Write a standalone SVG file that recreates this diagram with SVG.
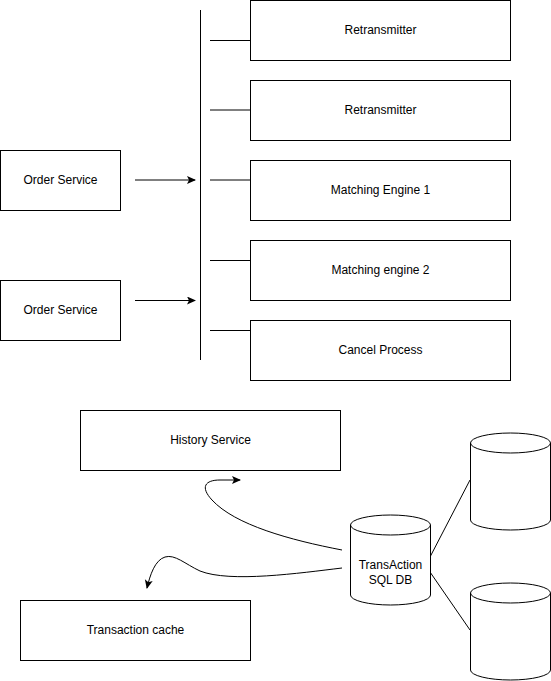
<svg xmlns="http://www.w3.org/2000/svg" width="551" height="681" viewBox="0 0 551 681">
<defs>
<style>
.box{fill:#fff;stroke:#000;stroke-width:1}
.t{font-family:"Liberation Sans",Arial,sans-serif;font-size:12px;fill:#000;text-anchor:middle}
.ln{fill:none;stroke:#000;stroke-width:1}
</style>
<marker id="ah" markerWidth="10" markerHeight="10" refX="8" refY="4" orient="auto" markerUnits="userSpaceOnUse">
<path d="M0,0 L9,4 L0,8 L2,4 Z" fill="#000"/>
</marker>
</defs>
<rect width="551" height="681" fill="#fff"/>
<g id="connectors">
<line class="ln" x1="200.5" y1="10" x2="200.5" y2="360"/>
<line class="ln" x1="210" y1="40.5" x2="250" y2="40.5"/>
<line class="ln" x1="210" y1="110" x2="250" y2="110"/>
<line class="ln" x1="210" y1="180" x2="250" y2="180"/>
<line class="ln" x1="210" y1="260.5" x2="250" y2="260.5"/>
<line class="ln" x1="210" y1="330.5" x2="250" y2="330.5"/>
<line class="ln" x1="135" y1="180" x2="195" y2="180" marker-end="url(#ah)"/>
<line class="ln" x1="135" y1="300.5" x2="195" y2="300.5" marker-end="url(#ah)"/>
<line class="ln" x1="430" y1="557" x2="470" y2="480"/>
<line class="ln" x1="430" y1="572" x2="470" y2="630"/>
<path class="ln" d="M342,550 C290,540 235,525 212,500 C200,487 205,480 220,480 L240,480" marker-end="url(#ah)"/>
<path class="ln" d="M342,568 C300,573 230,583 200,571 C185,564 175,554 165,557 C155,560 150,575 147,588" marker-end="url(#ah)"/>
</g>
<g id="retransmitter1"><rect class="box" x="250.5" y="0.5" width="260" height="60"/><text class="t" x="380.5" y="34">Retransmitter</text></g>
<g id="retransmitter2"><rect class="box" x="250.5" y="80.5" width="260" height="60"/><text class="t" x="380.5" y="114">Retransmitter</text></g>
<g id="matching1"><rect class="box" x="250.5" y="160.5" width="260" height="60"/><text class="t" x="380.5" y="194">Matching Engine 1</text></g>
<g id="matching2"><rect class="box" x="250.5" y="240.5" width="260" height="60"/><text class="t" x="380.5" y="274">Matching engine 2</text></g>
<g id="cancel"><rect class="box" x="250.5" y="320.5" width="260" height="60"/><text class="t" x="380.5" y="354">Cancel Process</text></g>
<g id="order1"><rect class="box" x="0.5" y="150.5" width="120" height="60"/><text class="t" x="60.5" y="184">Order Service</text></g>
<g id="order2"><rect class="box" x="0.5" y="280.5" width="120" height="60"/><text class="t" x="60.5" y="314">Order Service</text></g>
<g id="history"><rect class="box" x="80.5" y="410.5" width="260" height="60"/><text class="t" x="210.5" y="444">History Service</text></g>
<g id="cache"><rect class="box" x="20.5" y="600.5" width="230" height="60"/><text class="t" x="135.5" y="634">Transaction cache</text></g>
<g id="sqldb">
<path class="box" d="M350.5,525 A40,10 0 0 1 430.5,525 L430.5,595 A40,10 0 0 1 350.5,595 Z"/>
<path class="ln" d="M350.5,525 A40,10 0 0 0 430.5,525"/>
<text class="t" x="390.5" y="569">TransAction</text>
<text class="t" x="390.5" y="584">SQL DB</text>
</g>
<g id="db1">
<path class="box" d="M470.5,443 A40,10 0 0 1 550.5,443 L550.5,520 A40,10 0 0 1 470.5,520 Z"/>
<path class="ln" d="M470.5,443 A40,10 0 0 0 550.5,443"/>
</g>
<g id="db2">
<path class="box" d="M470.5,593 A40,10 0 0 1 550.5,593 L550.5,670 A40,10 0 0 1 470.5,670 Z"/>
<path class="ln" d="M470.5,593 A40,10 0 0 0 550.5,593"/>
</g>
</svg>
